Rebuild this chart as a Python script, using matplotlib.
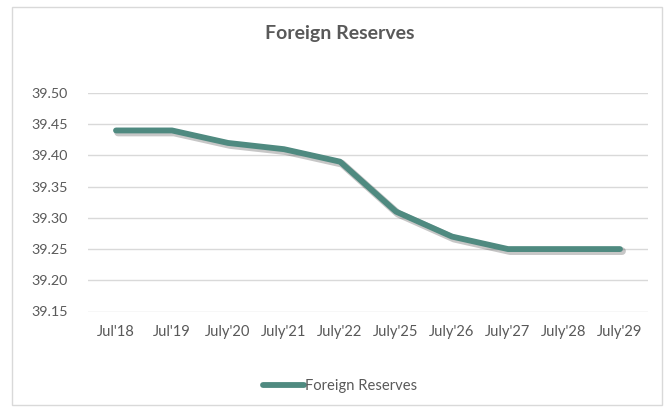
import matplotlib.pyplot as plt
import matplotlib.patheffects as pe
from matplotlib.patches import Rectangle
from matplotlib.lines import Line2D

plt.rcParams['font.family'] = ['Lato', 'DejaVu Sans']

periods = ["Jul'18", "Jul'19", "July'20", "July'21", "July'22",
           "July'25", "July'26", "July'27", "July'28", "July'29"]
reserves = [39.44, 39.44, 39.42, 39.41, 39.39, 39.31, 39.27, 39.25, 39.25, 39.25]
yticks = [39.15, 39.20, 39.25, 39.30, 39.35, 39.40, 39.45, 39.50]

line_color = "#4f8a80"
text_color = "#595959"

fig = plt.figure(figsize=(6.7, 4.16), dpi=100)
ax = fig.add_axes([88 / 670, 1 - 311.5 / 416, 560 / 670, 218.5 / 416])

# chart border
fig.patches.append(Rectangle((12 / 670, 1 - 405 / 416), 650 / 670, 398 / 416,
                             transform=fig.transFigure, fill=False,
                             edgecolor="#d9d9d9", linewidth=1.0))

xs = list(range(len(periods)))
ax.plot(xs, reserves, color=line_color, linewidth=4.2,
        solid_capstyle="round", solid_joinstyle="round", zorder=3,
        path_effects=[pe.SimpleLineShadow(offset=(1.5, -1.5), shadow_color="#000000",
                                          alpha=0.22, linewidth=5.5),
                      pe.Normal()])

ax.set_xlim(-0.5, len(periods) - 0.5)
ax.set_ylim(39.15, 39.50)
ax.set_xticks(xs)
ax.set_xticklabels(periods)
ax.set_yticks(yticks)
ax.set_yticklabels([f"{v:.2f}" for v in yticks])
ax.tick_params(axis="both", length=0, labelsize=10.3, labelcolor=text_color)
ax.tick_params(axis="x", labelsize=10.6, pad=10)
ax.tick_params(axis="y", pad=14.5)
ax.grid(axis="y", color="#d9d9d9", linewidth=1.0)
ax.set_axisbelow(True)
for s in ax.spines.values():
    s.set_visible(False)

fig.text(340 / 670, 1 - 33 / 416, "Foreign Reserves", ha="center", va="center",
         fontsize=14, fontweight="bold", color=text_color)

handle = Line2D([], [], color=line_color, linewidth=4.2, solid_capstyle="round")
fig.legend(handles=[handle], labels=["Foreign Reserves"], loc="center",
           bbox_to_anchor=(340 / 670, 1 - 386 / 416), frameon=False,
           fontsize=10.6, labelcolor=text_color, handlelength=2.8, handletextpad=0.1)

fig.savefig("out.png", dpi=100, facecolor="white")
